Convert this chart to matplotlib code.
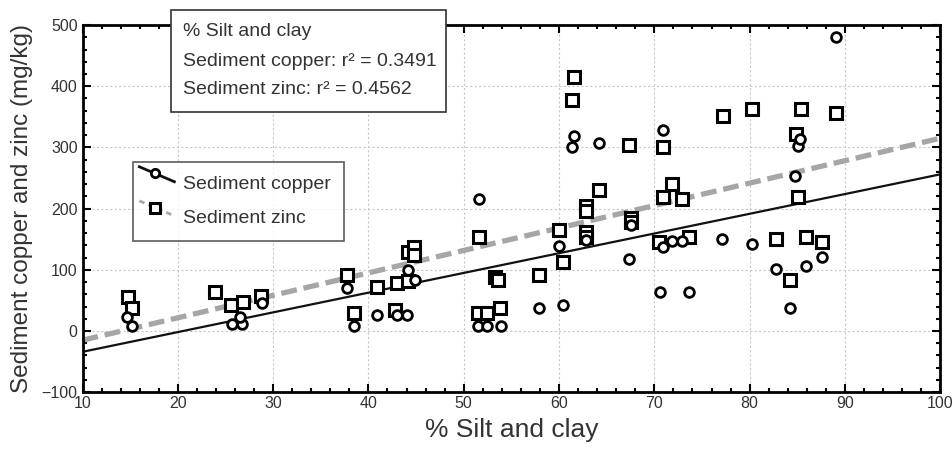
import matplotlib
matplotlib.use("Agg")
import matplotlib.pyplot as plt
import numpy as np
from matplotlib.legend_handler import HandlerBase
from matplotlib.lines import Line2D
from matplotlib.patches import Rectangle

plt.rcParams['font.family'] = ['Liberation Sans', 'DejaVu Sans']

# copper (circles)
cu_x = [14.7, 15.2, 25.7, 26.7, 26.5, 28.8, 37.8, 38.5, 40.9, 43.0, 44.0, 44.1, 44.9,
        51.6, 51.5, 52.4, 53.9, 57.9, 60.0, 60.4, 61.4, 61.6, 62.8, 64.2, 67.3, 67.5,
        70.6, 70.9, 70.9, 71.9, 72.9, 73.6, 77.1, 80.2, 82.8, 84.2, 84.8, 85.1, 85.3,
        85.9, 87.6, 89.1]
cu_y = [23, 8, 12, 12, 23, 45, 70, 8, 26, 26, 26, 100, 84,
        216, 8, 8, 8, 37, 139, 42, 301, 319, 148, 307, 117, 173,
        63, 137, 328, 147, 147, 63, 151, 143, 102, 37, 254, 303, 314,
        107, 121, 480]

# zinc (squares)
zn_x = [14.8, 15.2, 23.9, 25.6, 26.8, 28.7, 37.8, 38.5, 40.9, 42.8, 43.0, 44.1, 44.1,
        44.8, 44.8, 51.6, 51.5, 52.4, 53.3, 53.6, 53.8, 57.9, 60.0, 60.4, 61.4, 61.6,
        62.8, 62.8, 62.8, 62.8, 64.2, 67.3, 67.5, 67.5, 70.5, 70.9, 70.9, 71.9, 72.9,
        73.6, 77.2, 80.2, 82.8, 84.2, 84.9, 85.1, 85.4, 85.9, 87.6, 89.1]
zn_y = [55, 37, 63, 42, 47, 57, 92, 29, 72, 35, 78, 82, 129,
        137, 124, 154, 29, 29, 88, 84, 37, 91, 165, 113, 378, 415,
        204, 196, 162, 154, 231, 304, 184, 178, 146, 219, 301, 240, 215,
        154, 351, 363, 151, 84, 322, 219, 363, 154, 146, 356]

# fitted lines: intercept, slope
cu_fit = (-66.2, 3.222)
zn_fit = (-51.7, 3.667)
fit_x = [10, 100]

txt = '#333333'


class DiagHandler(HandlerBase):
    # legend handle drawn as a short down-sloping line with the marker on it
    def create_artists(self, legend, orig, xdescent, ydescent, width, height, fontsize, trans):
        x0, x1 = -xdescent - 0.25 * width, -xdescent + 0.95 * width
        y0, y1 = -ydescent + height * 1.65, -ydescent + height * 0.55
        ln = Line2D([x0, x1], [y0, y1], color=orig.get_color(), lw=2.0,
                    linestyle=orig.get_linestyle())
        if orig.get_linestyle() != '-':
            ln.set_dashes((2.0, 1.5))
        f = 0.45
        mk = Line2D([x0 + f * (x1 - x0)], [y0 + f * (y1 - y0)], marker=orig.get_marker(),
                    markersize=orig.get_markersize(), markerfacecolor='white',
                    markeredgecolor='black', markeredgewidth=orig.get_markeredgewidth(),
                    linestyle='none')
        ln.set_transform(trans)
        mk.set_transform(trans)
        return [ln, mk]


fig = plt.figure(figsize=(9.53, 4.55), dpi=100)
ax = fig.add_axes([0.0866, 0.138, 0.9, 0.807])

fx = np.array(fit_x)
ax.plot(fx, zn_fit[0] + zn_fit[1] * fx, color='#a6a6a6', lw=3.8, dashes=(3.0, 1.3), zorder=2)
ax.plot(fx, cu_fit[0] + cu_fit[1] * fx, color='#111111', lw=1.6, zorder=2)

ax.plot(zn_x, zn_y, linestyle='none', marker='s', markersize=8, markerfacecolor='white',
        markeredgecolor='black', markeredgewidth=2.2, zorder=3)
ax.plot(cu_x, cu_y, linestyle='none', marker='o', markersize=7, markerfacecolor='white',
        markeredgecolor='black', markeredgewidth=2.0, zorder=3)

ax.set_xlim(10, 100)
ax.set_ylim(-100, 500)
ax.set_xticks(np.arange(10, 101, 10))
ax.set_xticks(np.arange(10, 101, 2), minor=True)
ax.set_yticks(np.arange(-100, 501, 100))
ax.set_yticks(np.arange(-100, 501, 20), minor=True)
ax.tick_params(which='both', direction='in', top=True, right=True, colors='black',
               labelcolor=txt, labelsize=11.5, width=1.5)
ax.tick_params(which='major', length=6)
ax.tick_params(which='minor', length=3)
ax.tick_params(axis='x', pad=3)
ax.grid(True, which='major', color='#c8c8c8', linestyle=(0, (2, 2)), lw=0.8)
for s in ax.spines.values():
    s.set_linewidth(2)

ax.set_xlabel('% Silt and clay', fontsize=19, color=txt, labelpad=5)
ax.set_ylabel('Sediment copper and zinc (mg/kg)', fontsize=17.5, color=txt, labelpad=6)

h_cu = Line2D([], [], color='#111111', marker='o', markersize=6, markeredgewidth=2, linestyle='-')
h_zn = Line2D([], [], color='#a6a6a6', marker='s', markersize=7, markeredgewidth=2.2, linestyle='--')
leg = ax.legend([h_cu, h_zn], ['Sediment copper', 'Sediment zinc'],
                handler_map={Line2D: DiagHandler()}, loc='upper left',
                bbox_to_anchor=(0.0589, 0.627), borderaxespad=0, fontsize=14, frameon=True,
                fancybox=False, edgecolor='#333333', handlelength=1.5, handletextpad=0.35,
                labelspacing=0.85, borderpad=0.7, labelcolor=txt)
leg.get_frame().set_linewidth(1.2)

# r-squared annotation box
W, H = 953, 455
fig.patches.append(Rectangle((171 / W, 1 - 112 / H), 275 / W, 102 / H, transform=fig.transFigure,
                             facecolor='white', edgecolor='#333333', lw=1.2, zorder=5))
info = ['% Silt and clay', 'Sediment copper: r² = 0.3491', 'Sediment zinc: r² = 0.4562']
for i, s in enumerate(info):
    fig.text(183 / W, 1 - (32 + 29 * i) / H, s, fontsize=14, color=txt, va='center', zorder=6)

fig.savefig('out.png', dpi=100)
